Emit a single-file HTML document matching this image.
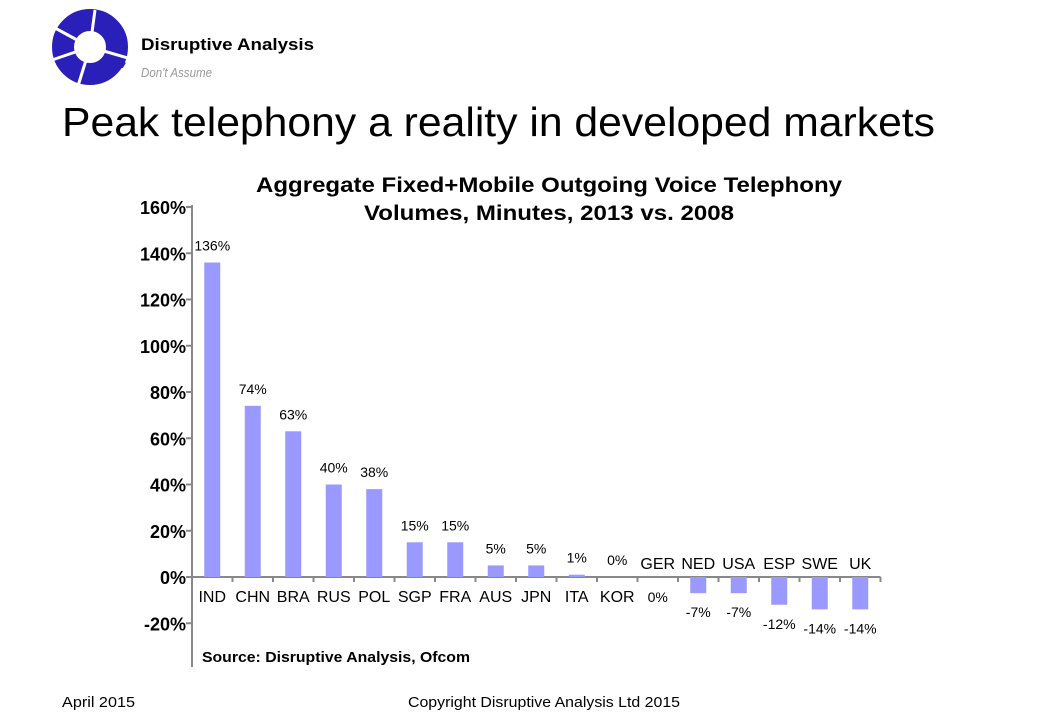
<!DOCTYPE html>
<html><head><meta charset="utf-8"><style>
body{margin:0;background:#fff;font-family:"Liberation Sans",Arial,sans-serif}
#wrap{position:relative;width:1040px;height:720px;overflow:hidden}
</style></head><body>
<div id="wrap">
<svg width="1040" height="720" id="svg">
 <g>
  <circle cx="90" cy="47" r="27" fill="none" stroke="#2a1fb8" stroke-width="22"/>
  <g stroke="#fff" stroke-width="3">
   <line x1="90" y1="47" x2="55" y2="28"/><line x1="90" y1="47" x2="95" y2="10"/>
   <line x1="90" y1="47" x2="128" y2="58"/><line x1="90" y1="47" x2="78" y2="86"/>
   <line x1="90" y1="47" x2="52" y2="60"/>
  </g>
  <rect x="115" y="60" width="10" height="6" fill="#2a1fb8" transform="rotate(30 120 63)"/>
  <text x="141" y="50" font-size="17" font-weight="bold" fill="#000" textLength="173" lengthAdjust="spacingAndGlyphs">Disruptive Analysis</text>
  <text x="141" y="77" font-size="13" font-style="italic" fill="#999" textLength="71" lengthAdjust="spacingAndGlyphs">Don't Assume</text>
 </g>
 <text x="62" y="136" font-size="41" fill="#000" textLength="873" lengthAdjust="spacingAndGlyphs">Peak telephony a reality in developed markets</text>
 <text x="256" y="192" font-size="21" font-weight="bold" textLength="586" lengthAdjust="spacingAndGlyphs">Aggregate Fixed+Mobile Outgoing Voice Telephony</text>
 <text x="364" y="220" font-size="21" font-weight="bold" textLength="370" lengthAdjust="spacingAndGlyphs">Volumes, Minutes, 2013 vs. 2008</text>
 <g id="plot"></g>
 <text x="202" y="662" font-size="15" font-weight="bold" textLength="268" lengthAdjust="spacingAndGlyphs">Source: Disruptive Analysis, Ofcom</text>
 <text x="62" y="707" font-size="15" textLength="73" lengthAdjust="spacingAndGlyphs">April 2015</text>
 <text x="408" y="707" font-size="15" textLength="272" lengthAdjust="spacingAndGlyphs">Copyright Disruptive Analysis Ltd 2015</text>
</svg>
</div>
<script>
const categories=["IND","CHN","BRA","RUS","POL","SGP","FRA","AUS","JPN","ITA","KOR","GER","NED","USA","ESP","SWE","UK"];
const values=[136,74,63,40,38,15,15,5,5,1,0,0,-7,-7,-12,-14,-14];
const valueLabels=["136%","74%","63%","40%","38%","15%","15%","5%","5%","1%","0%","0%","-7%","-7%","-12%","-14%","-14%"];
const catLabelAbove=[false,false,false,false,false,false,false,false,false,false,false,true,true,true,true,true,true];
const yTicks=[-20,0,20,40,60,80,100,120,140,160];
const NS="http://www.w3.org/2000/svg";
const g=document.getElementById("plot");
const x0=192,band=40.5,y0=577,pxPer=370/160;
const y=v=>y0-v*pxPer;
const xc=i=>x0+band*(i+0.5);
function mk(t,a){const e=document.createElementNS(NS,t);for(const k in a)e.setAttribute(k,a[k]);g.appendChild(e);return e;}
let ax=mk("line",{x1:x0,y1:y(160)-2,x2:x0,y2:667,stroke:"#888","stroke-width":2});


let xa=mk("line",{x1:x0,y1:y0,x2:x0+band*categories.length,y2:y0,stroke:"#888","stroke-width":2});


yTicks.forEach(t=>{
 let l=mk("line",{x1:x0-6,y1:y(t),x2:x0,y2:y(t),stroke:"#888","stroke-width":2});
 
 
 let tx=mk("text",{x:x0-6,y:y(t)+7,"font-size":18,"font-weight":"bold","text-anchor":"end"});
 tx.textContent=t+"%";
 
 
});
categories.forEach((c,i)=>{
 let tk=mk("line",{x1:x0+band*(i+1),y1:y0,x2:x0+band*(i+1),y2:y0+5,stroke:"#888","stroke-width":2});
 
 
 const v=values[i];
 const top=Math.min(y(v),y0),h=Math.abs(y(v)-y0);
 let b=mk("rect",{x:xc(i)-8,y:top,width:16,height:h,fill:"#9999ff"});
 
 
 let cl=mk("text",{x:xc(i),y:catLabelAbove[i]?y0-8:y0+25,"font-size":16,"text-anchor":"middle"});
 cl.textContent=c;
 
 
 let vy;
 if(v<0) vy=y(v)+24;
 else if(catLabelAbove[i]) vy=y0+25;
 else vy=y(v)-12;
 let vl=mk("text",{x:xc(i),y:vy,"font-size":14,"text-anchor":"middle"});
 vl.textContent=valueLabels[i];
 
 
});
</script>
</body></html>
